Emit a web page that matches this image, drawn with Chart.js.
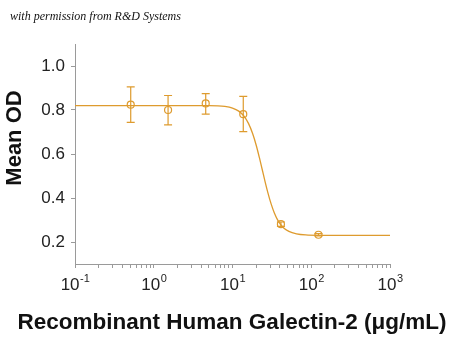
<!DOCTYPE html>
<html>
<head>
<meta charset="utf-8">
<script src="https://cdn.jsdelivr.net/npm/chart.js@4"></script>
<style>
  body { margin: 0; background: #fff; }
  canvas { display: block; }
</style>
</head>
<body>
<canvas id="chart" width="450" height="337"></canvas>
<script>
// measured points (ug/mL) with error bars
var conc = [0.51, 1.52, 4.57, 13.7, 41.2, 123.5];
var meanOD = [0.824, 0.800, 0.830, 0.781, 0.281, 0.233];
var errHi = [0.905, 0.866, 0.874, 0.862, 0.291, 0.238];
var errLo = [0.744, 0.732, 0.781, 0.702, 0.271, 0.228];

// fitted curve
var curveX = [0.1, 1, 5, 8, 10, 12, 14, 16, 18, 20, 22, 24, 26, 28, 31, 34, 38, 44, 52, 65, 85, 130, 1000];
var curveY = [0.82, 0.82, 0.8195, 0.816, 0.809, 0.795, 0.772, 0.738, 0.693, 0.640, 0.582, 0.525, 0.4725, 0.427, 0.372, 0.332, 0.296, 0.266, 0.248, 0.237, 0.232, 0.2305, 0.23];

// tick labels
var yTicks = [0.2, 0.4, 0.6, 0.8, 1.0];
var xDecades = [-1, 0, 1, 2, 3];

var orange = '#DE9B2E';
var axisGray = '#9a9a9a';

var xTicks = [];
xDecades.forEach(function (e) {
  for (var m = 1; m <= 9; m++) {
    if (e === 3 && m > 1) break;
    xTicks.push({ value: m * Math.pow(10, e), major: m === 1 });
  }
});

var overlay = {
  id: 'overlay',
  afterDatasetsDraw: function (chart) {
    var c = chart.ctx, xs = chart.scales.x, ys = chart.scales.y;
    c.save();
    // error bars
    c.strokeStyle = orange;
    c.lineWidth = 1.2;
    for (var i = 0; i < conc.length; i++) {
      var px = xs.getPixelForValue(conc[i]);
      var top = ys.getPixelForValue(errHi[i]);
      var bot = ys.getPixelForValue(errLo[i]);
      c.beginPath();
      c.moveTo(px, top); c.lineTo(px, bot);
      c.moveTo(px - 4, top); c.lineTo(px + 4, top);
      c.moveTo(px - 4, bot); c.lineTo(px + 4, bot);
      c.stroke();
    }
    c.restore();
  },
  afterDraw: function (chart) {
    var c = chart.ctx, xs = chart.scales.x;
    c.save();
    // x tick labels with superscript exponents
    c.fillStyle = '#222';
    c.textBaseline = 'alphabetic';
    xDecades.forEach(function (e) {
      var px = xs.getPixelForValue(Math.pow(10, e));
      var exp = String(e);
      c.font = '17px Arial, sans-serif';
      var wb = c.measureText('10').width;
      c.font = '11px Arial, sans-serif';
      var we = c.measureText(exp).width;
      var x0 = px - (wb + we) / 2;
      c.textAlign = 'left';
      c.font = '17px Arial, sans-serif';
      c.fillText('10', x0, 290);
      c.font = '11px Arial, sans-serif';
      c.fillText(exp, x0 + wb + 0.5, 282);
    });
    // axis titles
    c.fillStyle = '#111';
    c.textAlign = 'center';
    c.textBaseline = 'middle';
    c.font = 'bold 22.5px Arial, sans-serif';
    c.fillText('Recombinant Human Galectin-2 (\u03bcg/mL)', 232, 323);
    c.save();
    c.translate(15, 138);
    c.rotate(-Math.PI / 2);
    c.font = 'bold 22px Arial, sans-serif';
    c.fillText('Mean OD', 0, 0);
    c.restore();
    // permission note
    c.font = 'italic 12px "Liberation Serif", serif';
    c.fillStyle = '#111';
    c.textAlign = 'left';
    c.textBaseline = 'alphabetic';
    c.fillText('with permission from R&D Systems', 10, 20);
    c.restore();
  }
};

new Chart(document.getElementById('chart'), {
  type: 'line',
  data: {
    datasets: [{
      label: 'fit',
      data: curveX.map(function (x, i) { return { x: x, y: curveY[i] }; }),
      borderColor: orange,
      borderWidth: 1.3,
      pointRadius: 0,
      cubicInterpolationMode: 'monotone',
      fill: false
    }, {
      label: 'Mean OD',
      data: conc.map(function (x, i) { return { x: x, y: meanOD[i] }; }),
      showLine: false,
      pointRadius: 3.5,
      pointBorderWidth: 1.2,
      pointBorderColor: orange,
      pointBackgroundColor: 'rgba(255,255,255,0)'
    }]
  },
  options: {
    responsive: false,
    animation: false,
    events: [],
    layout: { padding: { top: 44, right: 60, left: 0, bottom: 0 } },
    plugins: { legend: { display: false }, tooltip: { enabled: false } },
    scales: {
      x: {
        type: 'logarithmic',
        min: 0.1,
        max: 1000,
        afterBuildTicks: function (s) { s.ticks = xTicks.map(function (t) { return { value: t.value, major: t.major }; }); },
        afterFit: function (s) { s.height = 337 - 264; },
        border: { display: true, color: axisGray, width: 1 },
        grid: { drawOnChartArea: false, drawTicks: true, tickLength: 4, color: axisGray },
        ticks: { autoSkip: false, maxRotation: 0, callback: function () { return ''; } }
      },
      y: {
        min: 0.1,
        max: 1.1,
        afterBuildTicks: function (s) { s.ticks = yTicks.map(function (v) { return { value: v }; }); },
        afterFit: function (s) { s.width = 75; },
        border: { display: true, color: axisGray, width: 1 },
        grid: { drawOnChartArea: false, drawTicks: true, tickLength: 4, color: axisGray },
        ticks: {
          color: '#222',
          padding: 6,
          font: { family: 'Arial, sans-serif', size: 17 },
          callback: function (v) { return v.toFixed(1); }
        }
      }
    }
  },
  plugins: [overlay]
});
</script>
</body>
</html>
